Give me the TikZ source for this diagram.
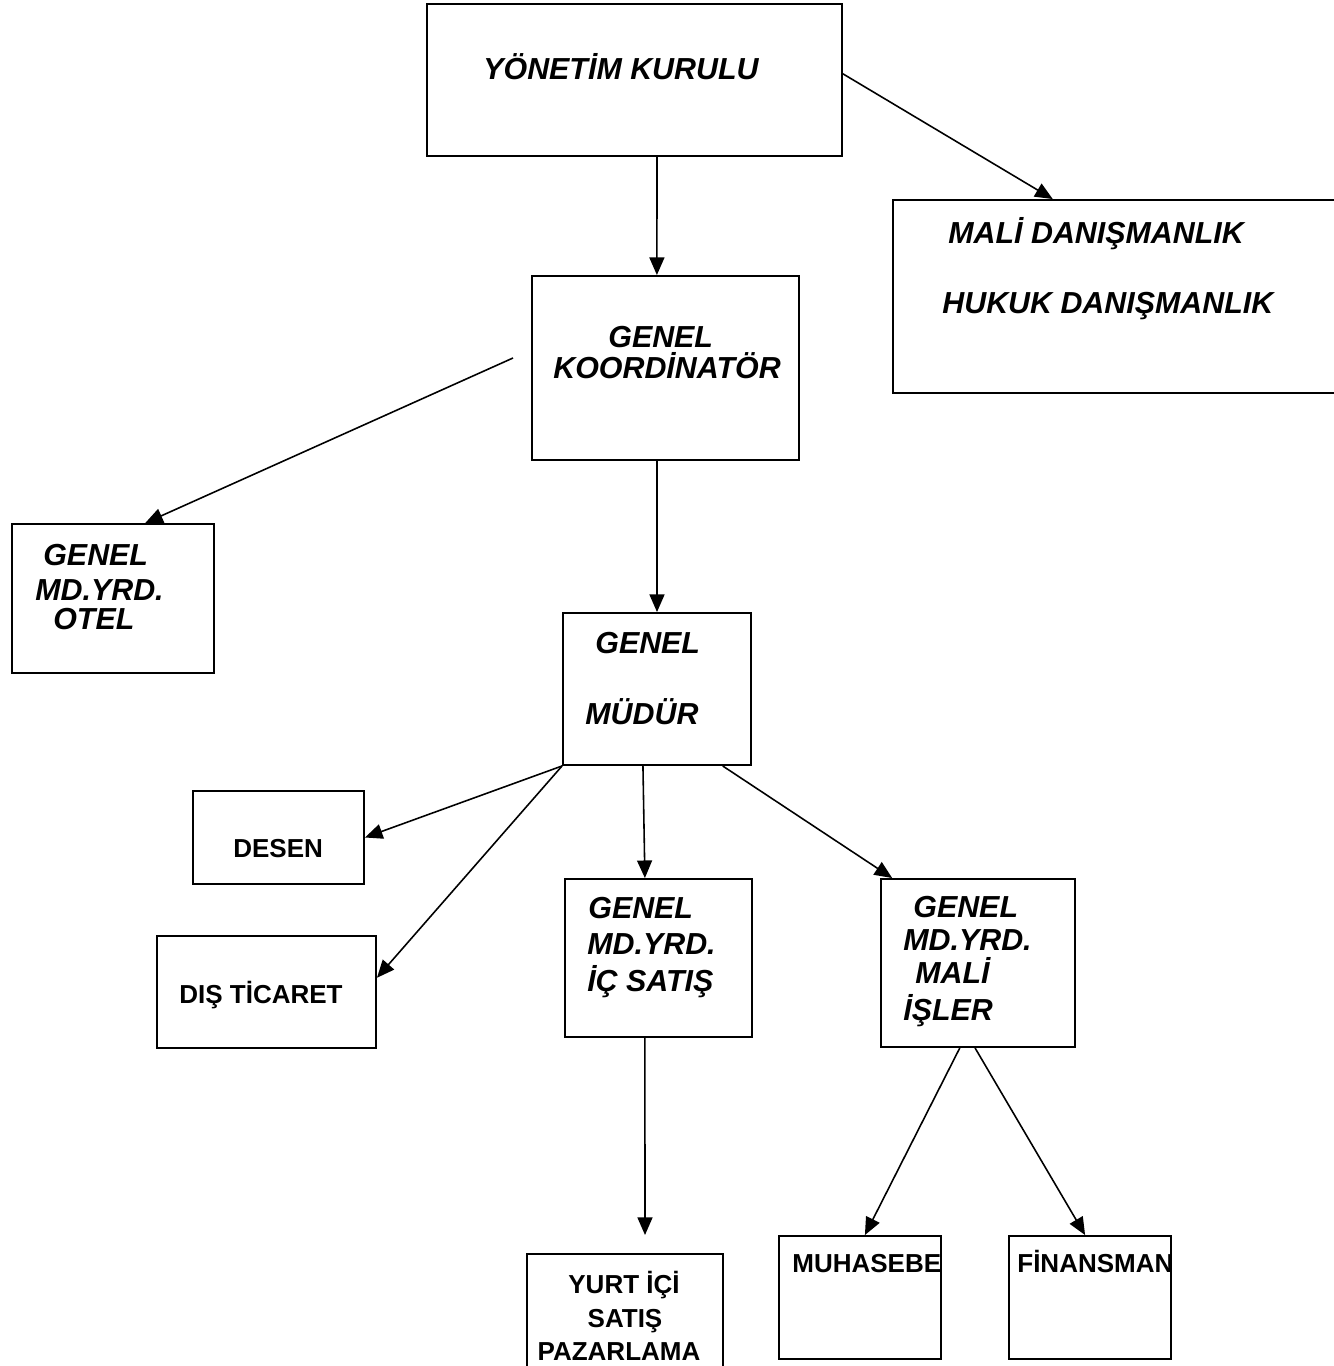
\documentclass[tikz,border=0pt]{standalone}
\usepackage{fontspec}
\setmainfont{Liberation Sans}
\usetikzlibrary{arrows.meta,calc,fit}
\tikzset{>={Triangle[length=10pt,width=8.5pt]},
  unit/.style={draw,line width=1.1pt,inner sep=0pt},
  ttl/.style={font=\fontsize{17.3}{20}\selectfont\bfseries\itshape,anchor=base west,inner sep=0pt},
  lbl/.style={font=\fontsize{14.8}{18}\selectfont\bfseries,anchor=base west,inner sep=0pt},
  arr/.style={->,line width=0.9pt}}

\begin{document}
\begin{tikzpicture}[x=0.02cm,y=-0.02cm]
\useasboundingbox (0,0) rectangle (1334,1366);

% ============ boxes ============
\node[unit,fit={(427,4) (842,156)}] (kurul) {};
\node[unit,fit={(893,200) (1345,393)}] (danis) {};
\node[unit,fit={(532,276) (799,460)}] (koord) {};
\node[unit,fit={(12,524) (214,673)}] (otel) {};
\node[unit,fit={(563,613) (751,765)}] (gm) {};
\node[unit,fit={(193,791) (364,884)}] (desen) {};
\node[unit,fit={(157,936) (376,1048)}] (dis) {};
\node[unit,fit={(565,879) (752,1037)}] (ic) {};
\node[unit,fit={(881,879) (1075,1047)}] (mali) {};
\node[unit,fit={(527,1254) (723,1385)}] (yurt) {};
\node[unit,fit={(779,1236) (941,1359)}] (muh) {};
\node[unit,fit={(1009,1236) (1171,1359)}] (fin) {};

% ============ texts ============
\node[ttl] (kurul-t) at (483,79) {YÖNETİM KURULU};
\node[ttl] (danis-1) at (948,243) {MALİ DANIŞMANLIK};
\node[ttl] (danis-2) at (942,313) {HUKUK DANIŞMANLIK};
\node[ttl] (koord-1) at (608,347) {GENEL};
\node[ttl] (koord-2) at (553,378) {KOORDİNATÖR};
\node[ttl] (otel-1) at (43,565) {GENEL};
\node[ttl] (otel-2) at (35,600) {MD.YRD.};
\node[ttl] (otel-3) at (53,629) {OTEL};
\node[ttl] (gm-1) at (595,653) {GENEL};
\node[ttl] (gm-2) at (585,724) {MÜDÜR};
\node[lbl] (desen-t) at (233,857) {DESEN};
\node[lbl] (dis-t) at (179,1003) {DIŞ TİCARET};
\node[ttl] (ic-1) at (588,918) {GENEL};
\node[ttl] (ic-2) at (587,954) {MD.YRD.};
\node[ttl] (ic-3) at (587,991) {İÇ SATIŞ};
\node[ttl] (mali-1) at (913,917) {GENEL};
\node[ttl] (mali-2) at (903,950) {MD.YRD.};
\node[ttl] (mali-3) at (915,983) {MALİ};
\node[ttl] (mali-4) at (903,1020) {İŞLER};
\node[lbl,anchor=base] (yurt-1) at (624,1293) {YURT İÇİ};
\node[lbl,anchor=base] (yurt-2) at (625,1327) {SATIŞ};
\node[lbl,anchor=base] (yurt-3) at (619,1360) {PAZARLAMA};
\begin{scope}
  \clip (muh.south west) rectangle (muh.north east);
  \node[lbl] (muh-t) at (792,1272) {MUHASEBE};
\end{scope}
\begin{scope}
  \clip (fin.south west) rectangle (fin.north east);
  \node[lbl] (fin-t) at (1017,1272) {FİNANSMAN};
\end{scope}

% ============ connectors ============
\coordinate (otel-src) at (513,358);
\coordinate (yurt-in) at (645,1235);
\draw[arr] ($(kurul.south west)!.554!(kurul.south east)$) -- ($(koord.north west)!.468!(koord.north east)$);
\draw[arr] ($(kurul.north east)!.46!(kurul.south east)$) -- ($(danis.north west)!.354!(danis.north east)$);
\draw[arr] (otel-src) -- ($(otel.north west)!.658!(otel.north east)$);
\draw[arr] (koord.south -| gm.north) -- (gm.north);
\draw[arr] (gm.south west) -- (desen.east);
\draw[arr] (gm.south west) -- ($(dis.north east)!.375!(dis.south east)$);
\draw[arr] ($(gm.south west)!.426!(gm.south east)$) -- ($(ic.north west)!.428!(ic.north east)$);
\draw[arr] ($(gm.south west)!.846!(gm.south east)$) -- ($(mali.north west)!.062!(mali.north east)$);
\draw[arr] ($(ic.south west)!.428!(ic.south east)$) -- (yurt-in);
\draw[arr] ($(mali.south west)!.407!(mali.south east)$) -- ($(muh.north west)!.53!(muh.north east)$);
\draw[arr] ($(mali.south west)!.485!(mali.south east)$) -- ($(fin.north west)!.47!(fin.north east)$);

\end{tikzpicture}
\end{document}
